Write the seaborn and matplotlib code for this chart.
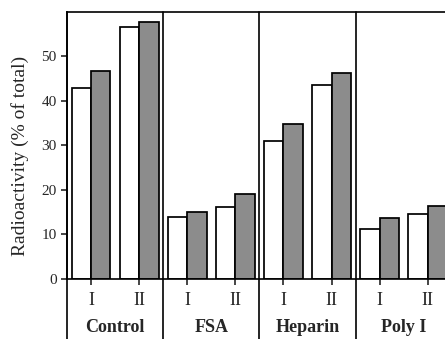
import matplotlib
matplotlib.use('Agg')

import pandas as pd
import matplotlib.pyplot as plt
import matplotlib.transforms as mtransforms
import seaborn as sns

sns.set_style('ticks')
plt.rcParams['font.family'] = ['Liberation Serif', 'DejaVu Serif']

# values
groups = ['Control', 'FSA', 'Heparin', 'Poly I']
fractions = ['I', 'II']
open_bars = [42.8, 56.5, 13.9, 16.1, 30.9, 43.6, 11.1, 14.6]
filled_bars = [46.6, 57.6, 14.9, 19.1, 34.8, 46.3, 13.7, 16.3]
yticks = [0, 10, 20, 30, 40, 50]

slots = [g + ' ' + f for g in groups for f in fractions]
df = pd.DataFrame({
    'slot': slots * 2,
    'value': open_bars + filled_bars,
    'kind': ['open'] * len(slots) + ['filled'] * len(slots),
})

fig = plt.figure(figsize=(4.45, 3.39), dpi=100)
ax = fig.add_axes([0.151, 0.178, 0.864, 0.788])

sns.barplot(data=df, x='slot', y='value', hue='kind', order=slots,
            hue_order=['open', 'filled'],
            palette={'open': 'white', 'filled': '#8c8c8c'},
            edgecolor='black', linewidth=1.25, width=0.8, saturation=1,
            legend=False, ax=ax)

ax.set_xlim(-0.5, len(slots) - 0.5)
ax.set_ylim(0, 60)
ax.set_yticks(yticks)
ax.set_xticks(range(len(slots)))
ax.set_xticklabels(fractions * len(groups))
ax.set_xlabel('')
ax.set_ylabel('Radioactivity (% of total)', fontsize=14)
ax.yaxis.set_label_coords(-0.10, 0.46)

for s in ['left', 'top', 'bottom', 'right']:
    ax.spines[s].set_linewidth(1.2)
    ax.spines[s].set_color('black')
ax.tick_params(axis='y', direction='out', length=4.5, width=1.2, labelsize=11, pad=3)
ax.tick_params(axis='x', direction='out', length=4.5, width=1.2, labelsize=13, pad=5)

trans = mtransforms.blended_transform_factory(ax.transData, ax.transAxes)
for i, g in enumerate(groups):
    x0 = 2 * i - 0.5
    ax.plot([x0, x0], [-0.25, 1], color='black', lw=1.2, transform=trans, clip_on=False)
    ax.text(2 * i + 0.5, -0.181, g, transform=trans, ha='center', va='center',
            fontsize=13, fontweight='bold')

fig.savefig('out.png', dpi=100)
